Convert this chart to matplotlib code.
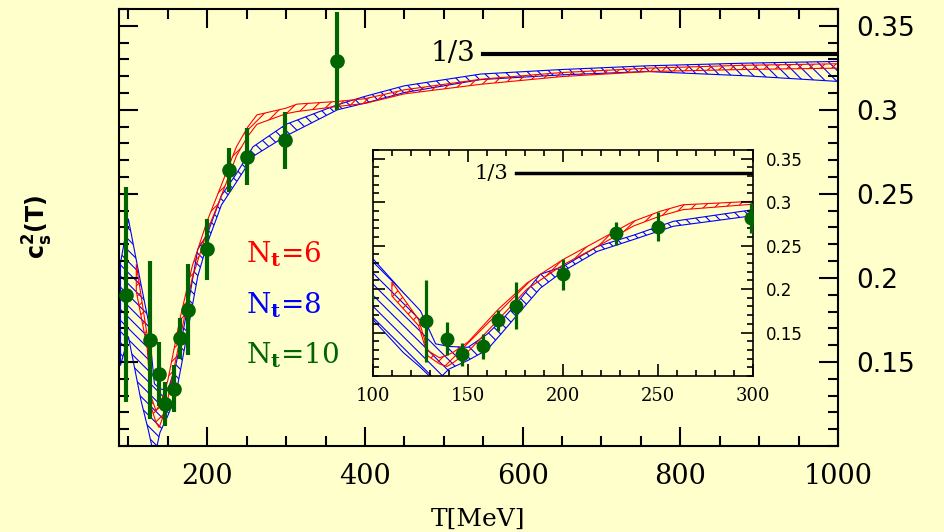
import matplotlib
matplotlib.use('Agg')
import matplotlib.pyplot as plt
from matplotlib.ticker import MultipleLocator

# N_t = 10 lattice points (green)
T10 = [97, 128, 139, 147, 158, 166, 175, 200, 228, 250, 299, 365]
cs2_10 = [0.190, 0.163, 0.143, 0.125, 0.134, 0.164, 0.181, 0.217, 0.264, 0.272, 0.282, 0.329]
err10 = [0.064, 0.047, 0.019, 0.013, 0.014, 0.012, 0.027, 0.018, 0.013, 0.017, 0.017, 0.029]

# N_t = 6 band (red)
T6 = [110, 124, 129, 135, 139, 142, 150, 166, 181, 200, 216, 237, 251, 263, 300, 314, 365, 400, 450, 547,
      650, 760, 880, 1000]
hi6 = [0.208, 0.165, 0.129, 0.121, 0.124, 0.127, 0.139, 0.177, 0.207, 0.234, 0.253, 0.278, 0.2895, 0.297,
       0.301, 0.3034, 0.305, 0.3066, 0.3119, 0.3182, 0.3222, 0.3248, 0.3265, 0.3274]
lo6 = [0.192, 0.158, 0.123, 0.114, 0.111, 0.115, 0.128, 0.165, 0.200, 0.228, 0.2465, 0.2726, 0.284, 0.2914,
       0.2977, 0.299, 0.302, 0.3038, 0.3095, 0.3152, 0.3198, 0.3228, 0.3240, 0.3248]

# N_t = 8 band (blue)
T8 = [90, 100, 116, 125, 133, 140, 150, 160, 168, 175, 188, 200, 218, 237, 258, 300, 365, 400, 450, 547,
      650, 758, 885, 1000]
hi8 = [0.209, 0.235, 0.196, 0.175, 0.137, 0.134, 0.133, 0.148, 0.165, 0.182, 0.217, 0.226, 0.249, 0.262,
       0.278, 0.2914, 0.303, 0.308, 0.3143, 0.3213, 0.3240, 0.3262, 0.3278, 0.3288]
lo8 = [0.148, 0.165, 0.127, 0.110, 0.093, 0.108, 0.118, 0.130, 0.150, 0.168, 0.201, 0.2205, 0.2434, 0.257,
       0.2723, 0.2845, 0.300, 0.304, 0.3103, 0.3180, 0.3208, 0.3228, 0.3202, 0.3169]

ytick_vals = [0.15, 0.2, 0.25, 0.3, 0.35]
ytick_labels = ['0.15', '0.2', '0.25', '0.3', '0.35']
main_xticks = [200, 400, 600, 800, 1000]
inset_xticks = [100, 150, 200, 250, 300]

BG = '#ffffcc'
RED, BLUE, GREEN = '#ff0000', '#0000ff', '#006400'
SERIF = 'DejaVu Serif'
SANS = 'DejaVu Sans'

plt.rcParams['hatch.linewidth'] = 0.8


def draw_content(ax, ms, elw):
    for T, lo, hi, color, hatch in [(T8, lo8, hi8, BLUE, '\\\\\\'), (T6, lo6, hi6, RED, '///')]:
        with plt.rc_context({'hatch.color': color}):
            ax.fill_between(T, lo, hi, facecolor='none', edgecolor=color, hatch=hatch, linewidth=0.8)
    ax.errorbar(T10, cs2_10, yerr=err10, fmt='o', color=GREEN, ms=ms, elinewidth=elw, capsize=0, zorder=5)


def style_axes(ax, lw, maj, mnr):
    for s in ax.spines.values():
        s.set_linewidth(lw)
    ax.tick_params(which='both', direction='in', top=True, right=True, left=True, bottom=True,
                   labelleft=False, labelright=True, width=lw)
    ax.tick_params(which='major', length=maj)
    ax.tick_params(which='minor', length=mnr)


fig = plt.figure(figsize=(9.44, 5.32), dpi=100, facecolor=BG)

# main panel
ax = fig.add_axes([0.126, 0.1617, 0.7617, 0.8214], facecolor=BG)
draw_content(ax, 9.5, 3)
ax.plot([550, 1000], [1 / 3, 1 / 3], color='black', lw=3)
ax.text(540, 1 / 3, '1/3', family=SERIF, fontsize=20, ha='right', va='center')
ax.set_xlim(88, 1000)
ax.set_ylim(0.10, 0.36)
ax.set_xticks(main_xticks)
ax.xaxis.set_minor_locator(MultipleLocator(50))
ax.set_yticks(ytick_vals, ytick_labels)
ax.yaxis.set_minor_locator(MultipleLocator(0.01))
style_axes(ax, 1.5, 14, 7)
ax.tick_params(axis='y', pad=13, labelsize=19)
ax.tick_params(axis='x', pad=12, labelsize=19.5)
for lab in ax.get_xticklabels():
    lab.set_family(SERIF)
for lab in ax.get_yticklabels():
    lab.set_family(SANS)
ax.set_xlabel('T[MeV]', family=SERIF, fontsize=18, labelpad=13)

for txt, color, y in [(r'N$_\mathbf{t}$=6', RED, 0.209),
                      (r'N$_\mathbf{t}$=8', BLUE, 0.179),
                      (r'N$_\mathbf{t}$=10', GREEN, 0.1493)]:
    ax.text(249, y, txt, color=color, fontsize=20, family=SERIF, math_fontfamily='dejavuserif',
            ha='left', va='baseline')

fig.text(38 / 944, 1 - 227 / 532, r'$\mathbf{c_s^2(T)}$', rotation=90, fontsize=17,
         math_fontfamily='dejavusans', ha='center', va='center')

# inset panel
ax2 = fig.add_axes([0.395, 0.2932, 0.403, 0.4248], facecolor=BG)
draw_content(ax2, 9, 2.3)
ax2.plot([175, 300], [1 / 3, 1 / 3], color='black', lw=2.5)
ax2.text(171, 1 / 3, '1/3', family=SERIF, fontsize=15, ha='right', va='center')
ax2.set_xlim(100, 300)
ax2.set_ylim(0.10, 0.36)
ax2.set_xticks(inset_xticks)
ax2.xaxis.set_minor_locator(MultipleLocator(10))
ax2.set_yticks(ytick_vals, ytick_labels)
ax2.yaxis.set_minor_locator(MultipleLocator(0.01))
style_axes(ax2, 1.2, 8.5, 4.5)
ax2.tick_params(axis='y', pad=9, labelsize=12)
ax2.tick_params(axis='x', pad=8, labelsize=13)
for lab in ax2.get_xticklabels():
    lab.set_family(SERIF)
for lab in ax2.get_yticklabels():
    lab.set_family(SANS)

fig.savefig('out.png', dpi=100, facecolor=BG)
